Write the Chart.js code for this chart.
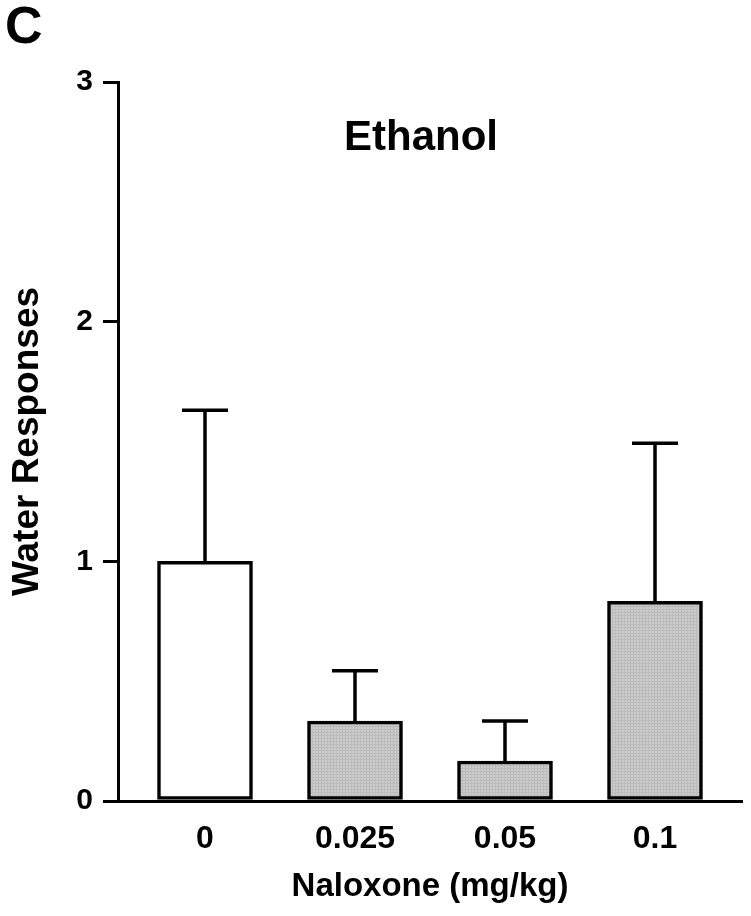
<!DOCTYPE html>
<html>
<head>
<meta charset="utf-8">
<script src="https://cdn.jsdelivr.net/npm/chart.js@4/dist/chart.umd.min.js"></script>
<style>
  html, body { margin: 0; padding: 0; background: #fff; }
  #wrap { width: 751px; height: 916px; position: relative; }
</style>
</head>
<body>
<div id="wrap"><canvas id="chart" width="751" height="916"></canvas></div>
<script>
const doses = ['0', '0.025', '0.05', '0.1'];
const means = [1.0, 0.333, 0.167, 0.833];
const sems = [0.63, 0.21, 0.167, 0.66];
const yTicks = [0, 1, 2, 3];

const FONT = '"Liberation Sans", Arial, Helvetica, sans-serif';

// fine grey hatch like the printed figure
function greyPattern() {
  const c = document.createElement('canvas');
  c.width = 3; c.height = 3;
  const g = c.getContext('2d');
  g.fillStyle = '#cbcbcb';
  g.fillRect(0, 0, 3, 3);
  g.fillStyle = '#bcbcbc';
  g.fillRect(0, 0, 3, 1);
  g.fillRect(0, 0, 1, 3);
  return g.createPattern(c, 'repeat');
}

const errorBars = {
  id: 'errorBars',
  afterDatasetsDraw(chart) {
    const ctx = chart.ctx;
    const y = chart.scales.y;
    const meta = chart.getDatasetMeta(0);
    ctx.save();
    ctx.strokeStyle = '#000';
    ctx.lineWidth = 3.5;
    meta.data.forEach((bar, i) => {
      const top = y.getPixelForValue(means[i] + sems[i]);
      ctx.beginPath();
      ctx.moveTo(bar.x, bar.y);
      ctx.lineTo(bar.x, top);
      ctx.moveTo(bar.x - 23, top);
      ctx.lineTo(bar.x + 23, top);
      ctx.stroke();
    });
    ctx.restore();
  }
};

const labels = {
  id: 'labels',
  afterDraw(chart) {
    const ctx = chart.ctx;
    const a = chart.chartArea;
    ctx.save();
    ctx.fillStyle = '#000';
    ctx.textAlign = 'center';
    ctx.textBaseline = 'middle';
    ctx.font = 'bold 42px ' + FONT;
    ctx.fillText('Ethanol', 421, a.top + 56);
    ctx.textAlign = 'left';
    ctx.textBaseline = 'top';
    ctx.font = 'bold 52px ' + FONT;
    ctx.fillText('C', 5, 3);
    ctx.restore();
  }
};

const fills = doses.map((d, i) => i === 0 ? '#ffffff' : greyPattern());

new Chart(document.getElementById('chart'), {
  type: 'bar',
  data: {
    datasets: [{
      data: doses.map((d, i) => ({ x: i, y: means[i] })),
      backgroundColor: fills,
      borderColor: '#000',
      borderWidth: 3.5,
      borderSkipped: false,
      barThickness: 95
    }]
  },
  options: {
    responsive: false,
    animation: false,
    layout: { padding: { top: 82, right: 9, left: 0, bottom: 0 } },
    plugins: { legend: { display: false }, tooltip: { enabled: false } },
    scales: {
      x: {
        type: 'linear',
        offset: false,
        min: -0.58,
        max: 3.58,
        afterFit(s) { s.height = 115; },
        afterBuildTicks(s) { s.ticks = doses.map((d, i) => ({ value: i })); },
        grid: { display: false, drawTicks: false },
        border: { display: true, color: '#000', width: 3 },
        ticks: {
          callback: (v) => doses[v],
          color: '#000',
          font: { family: FONT, size: 32, weight: 'bold' },
          padding: 19,
          maxRotation: 0
        },
        title: {
          display: true,
          text: 'Naloxone (mg/kg)',
          color: '#000',
          font: { family: FONT, size: 33, weight: 'bold' },
          padding: { top: 0, bottom: 9 }
        }
      },
      y: {
        min: 0,
        max: 3,
        afterFit(s) { s.width = 118; },
        afterBuildTicks(s) { s.ticks = yTicks.map(v => ({ value: v })); },
        grid: { drawOnChartArea: false, drawTicks: true, tickLength: 15, color: '#000', lineWidth: 3 },
        border: { display: true, color: '#000', width: 3 },
        ticks: {
          color: '#000',
          font: { family: FONT, size: 30, weight: 'bold' },
          padding: 10
        },
        title: {
          display: true,
          text: 'Water Responses',
          color: '#000',
          font: { family: FONT, size: 37, weight: 'bold' },
          padding: { top: 6, bottom: 0 }
        }
      }
    }
  },
  plugins: [errorBars, labels]
});
</script>
</body>
</html>
